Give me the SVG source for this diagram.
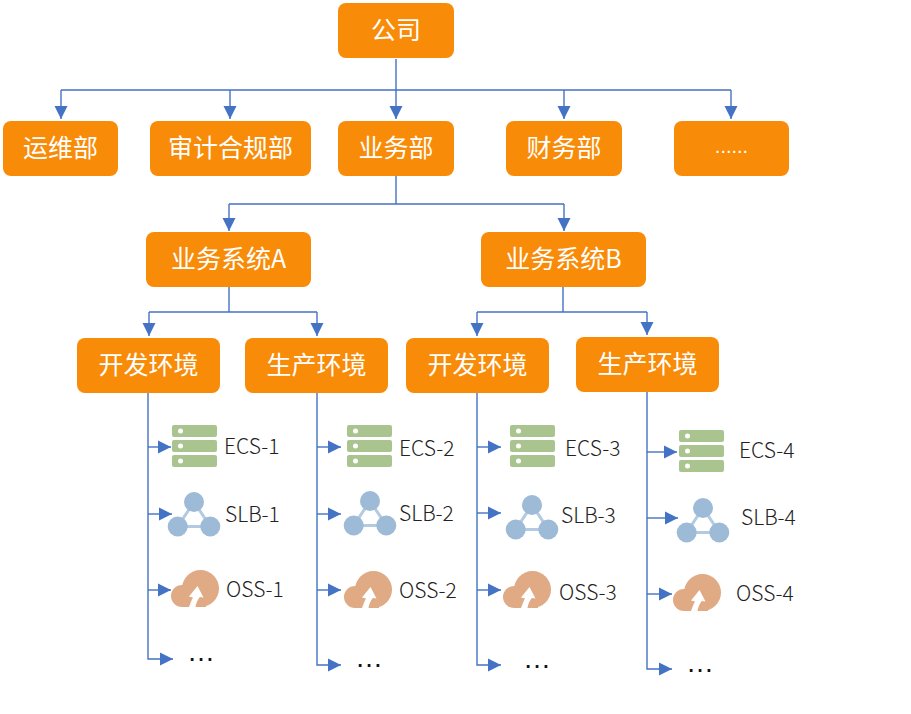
<svg xmlns="http://www.w3.org/2000/svg" width="911" height="714" viewBox="0 0 911 714">
<style>
.box{fill:#F88B08}
.nt{font-family:"Noto Sans CJK SC","Liberation Sans",sans-serif;font-size:25px;fill:#fff;text-anchor:middle}
.lb{font-family:"Noto Sans CJK SC","Liberation Sans",sans-serif;font-weight:300;font-size:21px;fill:#222}
.dots{font-family:"Liberation Sans",sans-serif;font-size:28px;fill:#111}
.cn{fill:none;stroke:#4472C4;stroke-width:1.4}
.cn path{marker-end:url(#tip)}
.trunk{fill:none;stroke:#4472C4;stroke-width:1.4}
</style>
<defs>
<marker id="tip" markerUnits="userSpaceOnUse" markerWidth="14" markerHeight="14" refX="13" refY="7" orient="auto">
<path d="M0 0.500L13 7L0 13.500Z" fill="#4472C4"/>
</marker>
<g id="ecs">
<rect x="0" y="0" width="45" height="12" rx="2" fill="#A9C48F"/>
<rect x="0" y="15" width="45" height="12" rx="2" fill="#A9C48F"/>
<rect x="0" y="30" width="45" height="12" rx="2" fill="#A9C48F"/>
<circle cx="8.500" cy="6" r="2.500" fill="#fff"/>
<circle cx="8.500" cy="21" r="2.500" fill="#fff"/>
<circle cx="8.500" cy="36" r="2.500" fill="#fff"/>
</g>
<g id="slb">
<path d="M0 0L-16.300 24.500H16.300Z" fill="none" stroke="#B3CBE2" stroke-width="3"/>
<circle cx="0" cy="0" r="10" fill="#9DBAD6"/>
<circle cx="-16.300" cy="24.500" r="10" fill="#9DBAD6"/>
<circle cx="16.300" cy="24.500" r="10" fill="#9DBAD6"/>
</g>
<g id="oss">
<circle cx="29.500" cy="18.500" r="18.500" fill="#DFAA84"/>
<circle cx="11" cy="26" r="11" fill="#DFAA84"/>
<rect x="11" y="20" width="24" height="17" fill="#DFAA84"/>
<path d="M18 37C19.500 33 20.500 30 22 27.500L18 26.500L26.500 16L32.500 27.500L28.800 27C26.500 30 25 33 24.500 37Z" fill="#fff"/>
</g>
</defs>
<g id="connectors">
<path class="trunk" d="M396 59V90M61 90H731"/>
<path class="trunk" d="M396 176V204M229 204H564"/>
<path class="trunk" d="M229 287V312M149 312H317"/>
<path class="trunk" d="M563 287V312M477 312H647"/>
<g class="cn">
<path d="M61 90V119"/><path d="M230 90V119"/><path d="M396 90V119"/><path d="M564 90V119"/><path d="M731 90V119"/>
<path d="M229 204V231"/><path d="M564 204V231"/>
<path d="M149 312V336"/><path d="M317 312V336"/><path d="M477 312V336"/><path d="M647 312V335"/>
<path d="M148 393V659H173"/><path d="M148 447H171"/><path d="M148 514H172"/><path d="M148 590H171"/>
<path d="M317 393V665H341"/><path d="M317 447H341"/><path d="M317 514H341"/><path d="M317 590H341"/>
<path d="M477 393V665H501"/><path d="M477 447H501"/><path d="M477 513H501"/><path d="M477 590H501"/>
<path d="M647 392V669H672"/><path d="M647 452H677"/><path d="M647 518H678"/><path d="M647 594H672"/>
</g>
</g>
<g id="company"><rect class="box" x="338" y="3" width="116" height="55" rx="8"/><text class="nt" x="396" y="39">公司</text></g>
<g id="ops"><rect class="box" x="3" y="121" width="115" height="55" rx="8"/><text class="nt" x="60.500" y="157">运维部</text></g>
<g id="audit"><rect class="box" x="150" y="121" width="161" height="55" rx="8"/><text class="nt" x="230.500" y="157">审计合规部</text></g>
<g id="business"><rect class="box" x="338" y="121" width="116" height="55" rx="8"/><text class="nt" x="396" y="157">业务部</text></g>
<g id="finance"><rect class="box" x="506" y="121" width="116" height="55" rx="8"/><text class="nt" x="564" y="157">财务部</text></g>
<g id="other"><rect class="box" x="674" y="121" width="115" height="55" rx="8"/><text x="731.500" y="153" text-anchor="middle" font-family="Liberation Sans, sans-serif" font-size="20" fill="#fff">......</text></g>
<g id="system-a"><rect class="box" x="146" y="232" width="165" height="55" rx="8"/><text class="nt" x="228.500" y="268">业务系统A</text></g>
<g id="system-b"><rect class="box" x="481" y="232" width="165" height="55" rx="8"/><text class="nt" x="563.500" y="268">业务系统B</text></g>
<g id="dev-a"><rect class="box" x="77" y="338" width="143" height="55" rx="8"/><text class="nt" x="148.500" y="374">开发环境</text></g>
<g id="prod-a"><rect class="box" x="245" y="338" width="143" height="55" rx="8"/><text class="nt" x="316.500" y="374">生产环境</text></g>
<g id="dev-b"><rect class="box" x="406" y="338" width="143" height="55" rx="8"/><text class="nt" x="477.500" y="374">开发环境</text></g>
<g id="prod-b"><rect class="box" x="576" y="337" width="143" height="55" rx="8"/><text class="nt" x="647.500" y="373">生产环境</text></g>

<g id="ecs-1"><use href="#ecs" x="172" y="425"/><text class="lb" x="224" y="454">ECS-1</text></g>
<g id="slb-1"><use href="#slb" x="194" y="502"/><text class="lb" x="225" y="522">SLB-1</text></g>
<g id="oss-1"><use href="#oss" x="171" y="570"/><text class="lb" x="226" y="597">OSS-1</text></g>
<text id="more-1" class="dots" x="187" y="661">…</text>

<g id="ecs-2"><use href="#ecs" x="347" y="425"/><text class="lb" x="399" y="456">ECS-2</text></g>
<g id="slb-2"><use href="#slb" x="370" y="501"/><text class="lb" x="399" y="521">SLB-2</text></g>
<g id="oss-2"><use href="#oss" x="344" y="571"/><text class="lb" x="399" y="598">OSS-2</text></g>
<text id="more-2" class="dots" x="355" y="667">…</text>

<g id="ecs-3"><use href="#ecs" x="510" y="425"/><text class="lb" x="565" y="456">ECS-3</text></g>
<g id="slb-3"><use href="#slb" x="532" y="505"/><text class="lb" x="561" y="523">SLB-3</text></g>
<g id="oss-3"><use href="#oss" x="503" y="571"/><text class="lb" x="559" y="600">OSS-3</text></g>
<text id="more-3" class="dots" x="523" y="668">…</text>

<g id="ecs-4"><use href="#ecs" x="679" y="430"/><text class="lb" x="739" y="458">ECS-4</text></g>
<g id="slb-4"><use href="#slb" x="703" y="508"/><text class="lb" x="741" y="525">SLB-4</text></g>
<g id="oss-4"><use href="#oss" x="673" y="574"/><text class="lb" x="736" y="601">OSS-4</text></g>
<text id="more-4" class="dots" x="686" y="672">…</text>
</svg>
